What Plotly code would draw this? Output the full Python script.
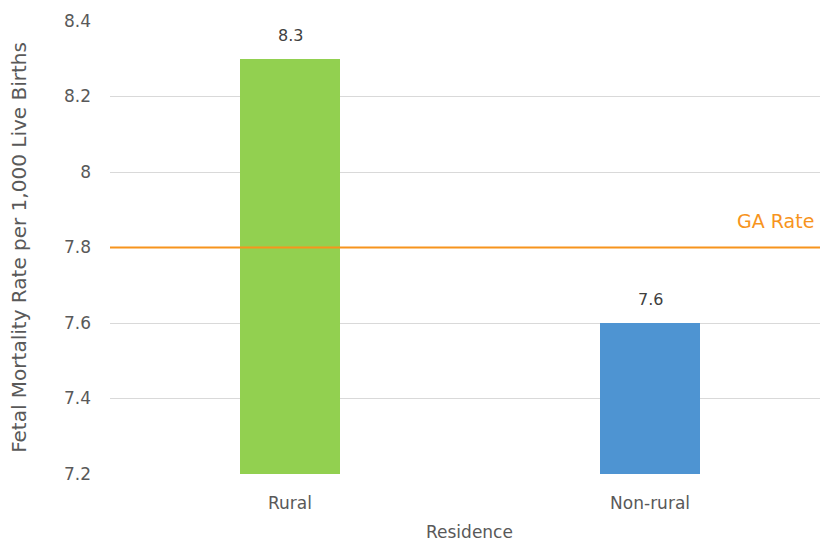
import plotly.graph_objects as go

categories = ["Rural", "Non-rural"]
values = [8.3, 7.6]
bar_colors = ["#92D050", "#4E94D2"]
ga_rate = 7.8
y_ticks = [7.2, 7.4, 7.6, 7.8, 8.0, 8.2, 8.4]
y_tick_labels = ["7.2", "7.4", "7.6", "7.8", "8", "8.2", "8.4"]

FONT = "DejaVu Sans, sans-serif"
GRAY = "#595959"
ORANGE = "#F7941D"

fig = go.Figure()
fig.add_trace(go.Bar(
    x=categories, y=values, marker=dict(color=bar_colors, line=dict(width=0)),
    width=0.278, showlegend=False, hoverinfo="x+y",
))

for c, v in zip(categories, values):
    fig.add_annotation(x=c, y=v, text=f"{v}", showarrow=False, yanchor="bottom", yshift=12,
                       font=dict(family=FONT, size=16, color="#404040"))

fig.add_shape(type="line", xref="paper", x0=0, x1=1, yref="y", y0=ga_rate, y1=ga_rate,
              line=dict(color=ORANGE, width=2), layer="above")
fig.add_annotation(xref="paper", x=1, yref="y", y=ga_rate, text="GA Rate",
                   showarrow=False, xanchor="right", yanchor="bottom", yshift=14, xshift=-4,
                   font=dict(family=FONT, size=19, color=ORANGE))

# x-axis title (the original plot area runs slightly past the right edge)
fig.add_annotation(xref="paper", yref="paper", x=0.507, y=0, yshift=-58, text="Residence",
                   showarrow=False, xanchor="center", yanchor="middle",
                   font=dict(family=FONT, size=17, color=GRAY))

fig.update_layout(
    width=820, height=544,
    margin=dict(l=110, r=0, t=21, b=70),
    paper_bgcolor="white", plot_bgcolor="white",
    font=dict(family=FONT, color=GRAY, size=17),
    xaxis=dict(type="category", range=[-0.5, 1.472], showgrid=False, showline=False,
               ticks="", ticklabelstandoff=17),
    yaxis=dict(range=[7.2, 8.4], tickvals=y_ticks, ticktext=y_tick_labels,
               showgrid=True, gridcolor="#D9D9D9", gridwidth=1, zeroline=False,
               showline=False, ticks="", ticklabelstandoff=18,
               title=dict(text="Fetal Mortality Rate per 1,000 Live Births",
                          font=dict(size=20, color=GRAY), standoff=31)),
    bargap=0,
)

fig.write_html(
    "out.html",
    config={"displayModeBar": False},
    post_script="document.body.style.margin='0';"
                "document.documentElement.style.overflow='hidden';"
                "document.body.style.overflow='hidden';",
)
